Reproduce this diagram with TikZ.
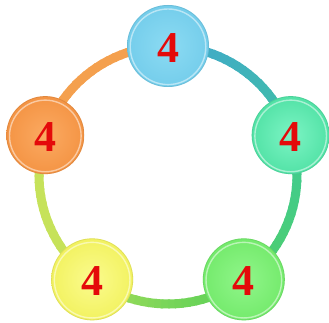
\documentclass[tikz,border=0pt]{standalone}
\usepackage{fontspec}
\setmainfont{Liberation Serif}
\usetikzlibrary{calc}
\definecolor{arcA}{HTML}{F4A04E}
\definecolor{arcB}{HTML}{40A8CC}
\definecolor{arcC}{HTML}{3FCB92}
\definecolor{arcD}{HTML}{58D058}
\definecolor{arcE}{HTML}{C6E25A}
\definecolor{blueIn}{HTML}{8CDBF3}
\definecolor{blueOut}{HTML}{74CDEB}
\definecolor{orIn}{HTML}{FBAA62}
\definecolor{orOut}{HTML}{F49444}
\definecolor{tealIn}{HTML}{7CF4C4}
\definecolor{tealOut}{HTML}{52E2A6}
\definecolor{grIn}{HTML}{90F68A}
\definecolor{grOut}{HTML}{74EA6C}
\definecolor{yeIn}{HTML}{FBFB8E}
\definecolor{yeOut}{HTML}{F2F260}
\definecolor{numred}{HTML}{E40A0A}
\tikzset{
  ball/.style={circle, minimum size=#1, inner sep=0pt, text=numred,
    font=\bfseries\fontsize{44}{44}\selectfont},
  ring/.style={line width=9pt}
}
\begin{document}
\begin{tikzpicture}[x=1pt,y=1pt]
\useasboundingbox (0,0) rectangle (329,323);
\coordinate (c) at (168,148);
\def\R{129}
% ring with colour gradients
\foreach \s/\e/\ca/\cb in {90/162/arcA/arcA, 162/234/arcE/arcE, 234/306/arcE/arcD, 306/378/arcD/arcC, 18/90/arcC/arcB}{
  \foreach \i in {0,...,23}{
    \pgfmathsetmacro\aa{\s+(\e-\s)*\i/24}
    \pgfmathsetmacro\bb{\s+(\e-\s)*(\i+1.3)/24}
    \pgfmathtruncatemacro\p{100*sqrt(\i/23)}
    \draw[ring, color=\cb!\p!\ca] ([shift={(\aa:\R)}]c) arc[start angle=\aa, end angle=\bb, radius=\R];
  }
}
% balls
\foreach \n/\ang/\ci/\co/\sz in {top/90/blueIn/blueOut/82, left/162/orIn/orOut/78, right/18/tealIn/tealOut/78, bl/234/yeIn/yeOut/82, br/306/grIn/grOut/82}{
  \shade[inner color=\ci, outer color=\co] ($(c)+(\ang:\R)$) circle[radius=\sz/2];
  \draw[white, opacity=0.5, line width=1.4pt] ($(c)+(\ang:\R)+(0,-0.8)$) circle[radius=\sz/2-3.2];
  \draw[\co!75!black, opacity=0.3, line width=0.8pt] ($(c)+(\ang:\R)$) circle[radius=\sz/2-0.4];
  \node[ball=\sz] (\n) at ($(c)+(\ang:\R)+(0,-2)$) {4};
}
\end{tikzpicture}
\end{document}
